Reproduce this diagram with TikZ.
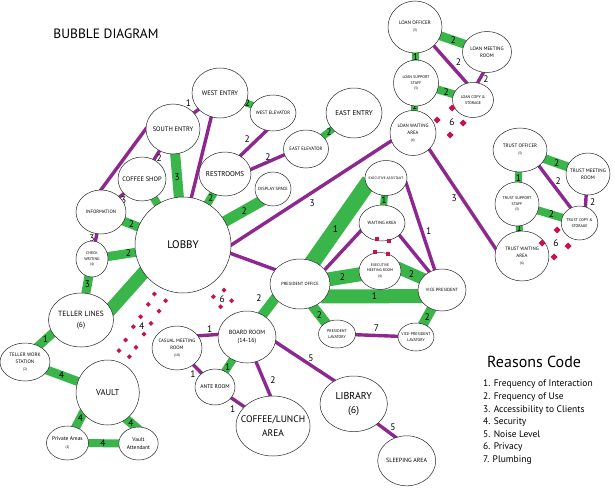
\documentclass[tikz,border=0pt]{standalone}
\usepackage{fontspec}
\setmainfont{PT Sans}
\usetikzlibrary{shapes.geometric}
\definecolor{tiepurple}{RGB}{142,39,143}
\definecolor{bandgreen}{RGB}{57,181,74}
\definecolor{privred}{RGB}{200,18,78}
\pgfdeclarelayer{links}
\pgfsetlayers{links,main}
\newcommand{\sml}{\fontsize{3.5}{4.5}\selectfont}
\tikzset{
	fs/.style={font=\fontsize{#1}{\the\dimexpr#1pt*7/5\relax}\selectfont},
	radii/.style 2 args={minimum width=2*#1, minimum height=2*#2},
	bubble/.style={ellipse, draw=black!85, line width=.5pt, fill=white, inner sep=-6pt, align=center},
	tie/.style={draw=tiepurple, line width=3.4pt, shorten <=-2pt, shorten >=-2pt},
	band/.style={draw=bandgreen, line width=#1, shorten <=-5pt, shorten >=-5pt},
	num/.style={fs=9.5, inner sep=0pt},
	privmark/.style={fill=privred}
}

\begin{document}
\begin{tikzpicture}[x=1pt, y=-1pt]
	\useasboundingbox (0,0) rectangle (615,487);
	\node[fs=13.5] (title) at (106,34) {BUBBLE DIAGRAM};

	% entries, lobby and public spaces
	\node[bubble, radii={28}{25}, fs=6.5] (west) at (220,93) {WEST ENTRY};
	\node[bubble, radii={23}{18}, fs=4.8] (westelev) at (273,113) {WEST ELEVATOR};
	\node[bubble, radii={27}{25}, fs=6.5] (south) at (173,129) {SOUTH ENTRY};
	\node[bubble, radii={24}{22}, fs=6.5] (coffee) at (142,179) {COFFEE SHOP};
	\node[bubble, radii={26}{22}, fs=7] (rest) at (225,174) {RESTROOMS};
	\node[bubble, radii={18}{17}, fs=4.5] (display) at (273,189) {DISPLAY SPACE};
	\node[bubble, radii={22.5}{19}, fs=4.8] (eastelev) at (306,149) {EAST ELEVATOR};
	\node[bubble, radii={28}{25}, fs=7] (east) at (354,113) {EAST ENTRY};
	\node[bubble, radii={25}{22}, fs=4.8] (info) at (101,212) {INFORMATION};
	\node[bubble, radii={48}{48}, fs=11] (lobby) at (183,245) {LOBBY};
	\node[bubble, radii={16}{18}, fs=4] (check) at (92,259) {CHECK\\WRITING\\\sml(4)};
	\node[bubble, radii={32.5}{27}, fs=7.5] (teller) at (81,320) {TELLER LINES\\(6)};
	\node[bubble, radii={25}{19}, fs=5] (station) at (25,362) {TELLER WORK\\STATION\\\sml(2)};
	\node[bubble, radii={31.6}{32.5}, fs=8.5] (vault) at (107.7,392.5) {VAULT};
	\node[bubble, radii={21}{17}, fs=5.5] (private) at (67.5,443) {Private Areas\\\sml(2)};
	\node[bubble, radii={19.7}{16.5}, fs=5.5] (attendant) at (138.5,443.5) {Vault\\Attendant};

	% board room wing
	\node[bubble, radii={25}{22}, fs=4.8] (casual) at (177,348) {CASUAL MEETING\\ROOM\\\sml(10)};
	\node[bubble, radii={29}{26}, fs=6] (board) at (247,337) {BOARD ROOM\\(14-16)};
	\node[bubble, radii={20}{18}, fs=5.5] (ante) at (215,387) {ANTE ROOM};
	\node[bubble, radii={35}{30}, fs=9.5] (lunch) at (273,426) {COFFEE/LUNCH\\AREA};
	\node[bubble, radii={33.7}{27.8}, fs=10] (library) at (353.7,403.8) {LIBRARY\\(6)};
	\node[bubble, radii={29}{25}, fs=6] (sleep) at (406.7,460.8) {SLEEPING AREA};

	% executive suite
	\node[bubble, radii={30}{25}, fs=4.5] (pres) at (300,284) {PRESIDENT OFFICE};
	\node[bubble, radii={21}{17.5}, fs=3.5] (assist) at (386,178) {EXECUTIVE ASSISTANT};
	\node[bubble, radii={23}{18}, fs=4.5] (waiting) at (382,223) {WAITING AREA};
	\node[bubble, radii={21}{18.5}, fs=3.8] (execmeet) at (380,271) {EXECUTIVE\\MEETING ROOM\\\sml(4)};
	\node[bubble, radii={24}{21}, fs=4.5] (vice) at (442,290) {VICE PRESIDENT};
	\node[bubble, radii={18.5}{14}, fs=4] (preslav) at (337,334) {PRESIDENT\\LAVATORY};
	\node[bubble, radii={18}{14}, fs=4] (vicelav) at (416,337) {VICE-PRESIDENT\\LAVATORY};

	% loan and trust departments
	\node[bubble, radii={27}{26}, fs=5] (loanoff) at (415,27) {LOAN OFFICER\\\sml(3)};
	\node[bubble, radii={24.5}{20.5}, fs=5] (loanmeet) at (487,52) {LOAN MEETING\\ROOM};
	\node[bubble, radii={22.5}{23}, fs=4] (loansup) at (416,83) {LOAN SUPPORT\\STAFF\\\sml(3)};
	\node[bubble, radii={20.5}{17.5}, fs=4] (loancopy) at (473,100) {LOAN COPY \&\\STORAGE};
	\node[bubble, radii={23}{22.5}, fs=4.8] (loanwait) at (413,133) {LOAN WAITING\\AREA\\\sml(6)};
	\node[bubble, radii={27}{22}, fs=5] (trustoff) at (520,150) {TRUST OFFICER\\\sml(3)};
	\node[bubble, radii={22}{21}, fs=5] (trustmeet) at (588,174) {TRUST MEETING\\ROOM};
	\node[bubble, radii={22}{22}, fs=4] (trustsup) at (517,204) {TRUST SUPPORT\\STAFF\\\sml(3)};
	\node[bubble, radii={18.3}{17}, fs=4] (trustcopy) at (579.5,223) {TRUST COPY \&\\STORAGE};
	\node[bubble, radii={27}{25}, fs=4.8] (trustwait) at (522,256) {TRUST WAITING\\AREA\\\sml(6)};

	\begin{pgfonlayer}{links}
	% purple ties
	\draw[tie] (south.center) -- node[num, pos=.48, shift={(-7,-9)}] {1} (west.center);
	\draw[tie] (west.-110) -- (lobby.80);
	\draw[tie] (south.center) -- node[num, pos=.54, shift={(3,2)}] {2} (coffee.center);
	\draw[tie] (south.west) -- (info.north);
	\draw[tie] (coffee.center) -- node[num, pos=.52, shift={(3,4)}] {3} (info.center);
	\draw[tie] (rest.50) -- node[num, pos=.45, shift={(-5,-5)}] {2} (westelev.-110);
	\draw[tie] (rest.10) -- node[num, pos=.57, shift={(-2,-4)}] {2} (eastelev.195);
	\draw[tie] (info.center) -- node[num, pos=.55, shift={(-4,0)}] {3} (check.center);
	\draw[tie] (lobby.east) -- node[num, pos=.475, shift={(5,8)}] {3} (loanwait.200);
	\draw[tie] (lobby.-10) -- (pres.150);
	\draw[tie] (board.175) -- node[num, pos=.42, shift={(0,-6)}] {1} (casual.30);
	\draw[tie] (casual.center) -- node[num, pos=.55, shift={(-5,5)}] {1} (ante.center);
	\draw[tie] (ante.center) -- node[num, pos=.39, shift={(-5,7)}] {1} (lunch.center);
	\draw[tie] (board.-70) -- node[num, pos=.63, shift={(8,-3)}] {2} (lunch.95);
	\draw[tie] (board.-10) -- node[num, pos=.54, shift={(3.5,-5)}] {5} (library.130);
	\draw[tie] (library.-40) -- node[num, pos=.63, shift={(4,-5)}] {5} (sleep.115);
	\draw[tie] (preslav.center) -- node[num, pos=.5, shift={(0,-7)}] {7} (vicelav.center);
	\draw[tie] (pres.30) -- (waiting.200);
	\draw[tie] (assist.-15) -- node[num, pos=.58, shift={(6,-2)}] {1} (vice.110);
	\draw[tie] (waiting.-35) -- (vice.125);
	\draw[tie] (loanoff.-45) -- node[num, pos=.56, shift={(6,-5)}] {2} (loancopy.110);
	\draw[tie] (loanmeet.-100) -- node[num, pos=.6, shift={(6,0)}] {2} (loancopy.75);
	\draw[tie] (loanwait.-45) -- node[num, pos=.45, shift={(-5,4)}] {3} (trustwait.165);
	\draw[tie] (trustoff.-40) -- node[num, pos=.45, shift={(5,-4)}] {2} (trustcopy.120);
	\draw[tie] (trustmeet.-95) -- node[num, pos=.5, shift={(7,1)}] {2} (trustcopy.70);

	% green bands
	\draw[band=7pt] (west.center) -- node[num, pos=.52] {2} (westelev.center);
	\draw[band=10pt] (south.center) -- node[num, pos=.42] {3} (lobby.center);
	\draw[band=8pt] (coffee.center) -- (lobby.center);
	\draw[band=8pt] (rest.center) -- node[num, pos=.34] {2} (lobby.center);
	\draw[band=11pt] (display.225) -- node[num, pos=.21] {2} (lobby.center);
	\draw[band=7pt] (eastelev.center) -- node[num, pos=.48] {2} (east.center);
	\draw[band=9pt] (info.center) -- node[num, pos=.37] {2} (lobby.center);
	\draw[band=9pt] (check.center) -- node[num, pos=.4] {2} (lobby.center);
	\draw[band=9pt] (check.center) -- node[num, pos=.41] {3} (teller.center);
	\draw[band=13pt] (teller.20) -- (lobby.215);
	\draw[band=9pt] (teller.205) -- node[num, pos=.5] {1} (station.50);
	\draw[band=9pt] (station.center) -- node[num, pos=.44] {4} (vault.center);
	\draw[band=9pt] (vault.220) -- node[num, pos=.17] {4} (private.center);
	\draw[band=9pt] (vault.-55) -- node[num, pos=.5] {4} (attendant.100);
	\draw[band=8pt] (private.center) -- node[num, pos=.5] {4} (attendant.center);
	\draw[band=10pt] (board.55) -- node[num, pos=.5, shift={(-10,-8)}] {2} (pres.210);
	\draw[band=8pt] (board.center) -- node[num, pos=.6] {1} (ante.center);
	\draw[band=16pt] (pres.60) -- node[num, pos=.42] {1} (assist.200);
	\draw[band=14pt] (pres.center) -- node[num, pos=.53] {2} (execmeet.center);
	\draw[band=14pt] (pres.-25) -- node[num, pos=.52] {1} (vice.195);
	\draw[band=10pt] (pres.-60) -- node[num, pos=.5] {2} (preslav.135);
	\draw[band=12pt] (execmeet.5) -- node[num, pos=.5] {2} (vice.150);
	\draw[band=7pt] (assist.center) -- node[num, pos=.5] {1} (waiting.center);
	\draw[band=10pt] (vice.center) -- node[num, pos=.57] {2} (vicelav.center);
	\draw[band=9pt] (loanoff.center) -- node[num, pos=.53] {2} (loanmeet.center);
	\draw[band=7pt] (loanoff.center) -- node[num, pos=.54] {1} (loansup.center);
	\draw[band=8pt] (loansup.center) -- node[num, pos=.53] {2} (loancopy.center);
	\draw[band=7pt] (loansup.center) -- node[num, pos=.46] {1} (loanwait.center);
	\draw[band=9pt] (trustoff.center) -- node[num, pos=.54] {2} (trustmeet.center);
	\draw[band=7pt] (trustoff.center) -- node[num, pos=.52] {1} (trustsup.center);
	\draw[band=8pt] (trustsup.center) -- node[num, pos=.55] {2} (trustcopy.center);
	\draw[band=7pt] (trustsup.center) -- node[num, pos=.46] {1} (trustwait.center);
	\end{pgfonlayer}

	% privacy and security marks
	\foreach \p in {(452,108),(437,120),(463,123),(450,135),(557,230),(542,243),(568,246),(554,257)}
		\fill[privmark] \p +(-3.5,0) -- +(0,-3.5) -- +(3.5,0) -- +(0,3.5) -- cycle;
	\foreach \p in {(154.3,294),(165.7,300.7),(148.3,304.3),(159,311),(140.7,316.7),(151,323.3),(133.3,326.7),(144,334),(125.7,340),(136,347.3),(119,350.7),(129.3,356.7),(224,290),(213.3,296.7),(231.7,300.7),(220.7,306.7)}
		\fill[privmark] \p +(-2.5,0) -- +(0,-2.5) -- +(2.5,0) -- +(0,2.5) -- cycle;
	\foreach \p in {(377,239),(389,241),(375,252),(388,254)}
		\fill[privmark] \p +(-2,-2) rectangle +(2,2);
	\node[num] (privloan) at (452,122) {6};
	\node[num] (privtrust) at (556,243) {6};
	\node[num] (privboard) at (222.3,299) {6};
	\node[num] (secvault) at (141.7,326) {4};

	% legend
	\node[fs=16, anchor=west, inner sep=0pt] (reasons) at (487,362) {Reasons Code};
	\node[font=\fontsize{9.5}{12.6}\selectfont, anchor=north west, align=left, inner sep=0pt] (codes) at (483,380) {1. Frequency of Interaction\\2. Frequency of Use\\3. Accessibility to Clients\\4. Security\\5. Noise Level\\6. Privacy\\7. Plumbing};
\end{tikzpicture}
\end{document}
